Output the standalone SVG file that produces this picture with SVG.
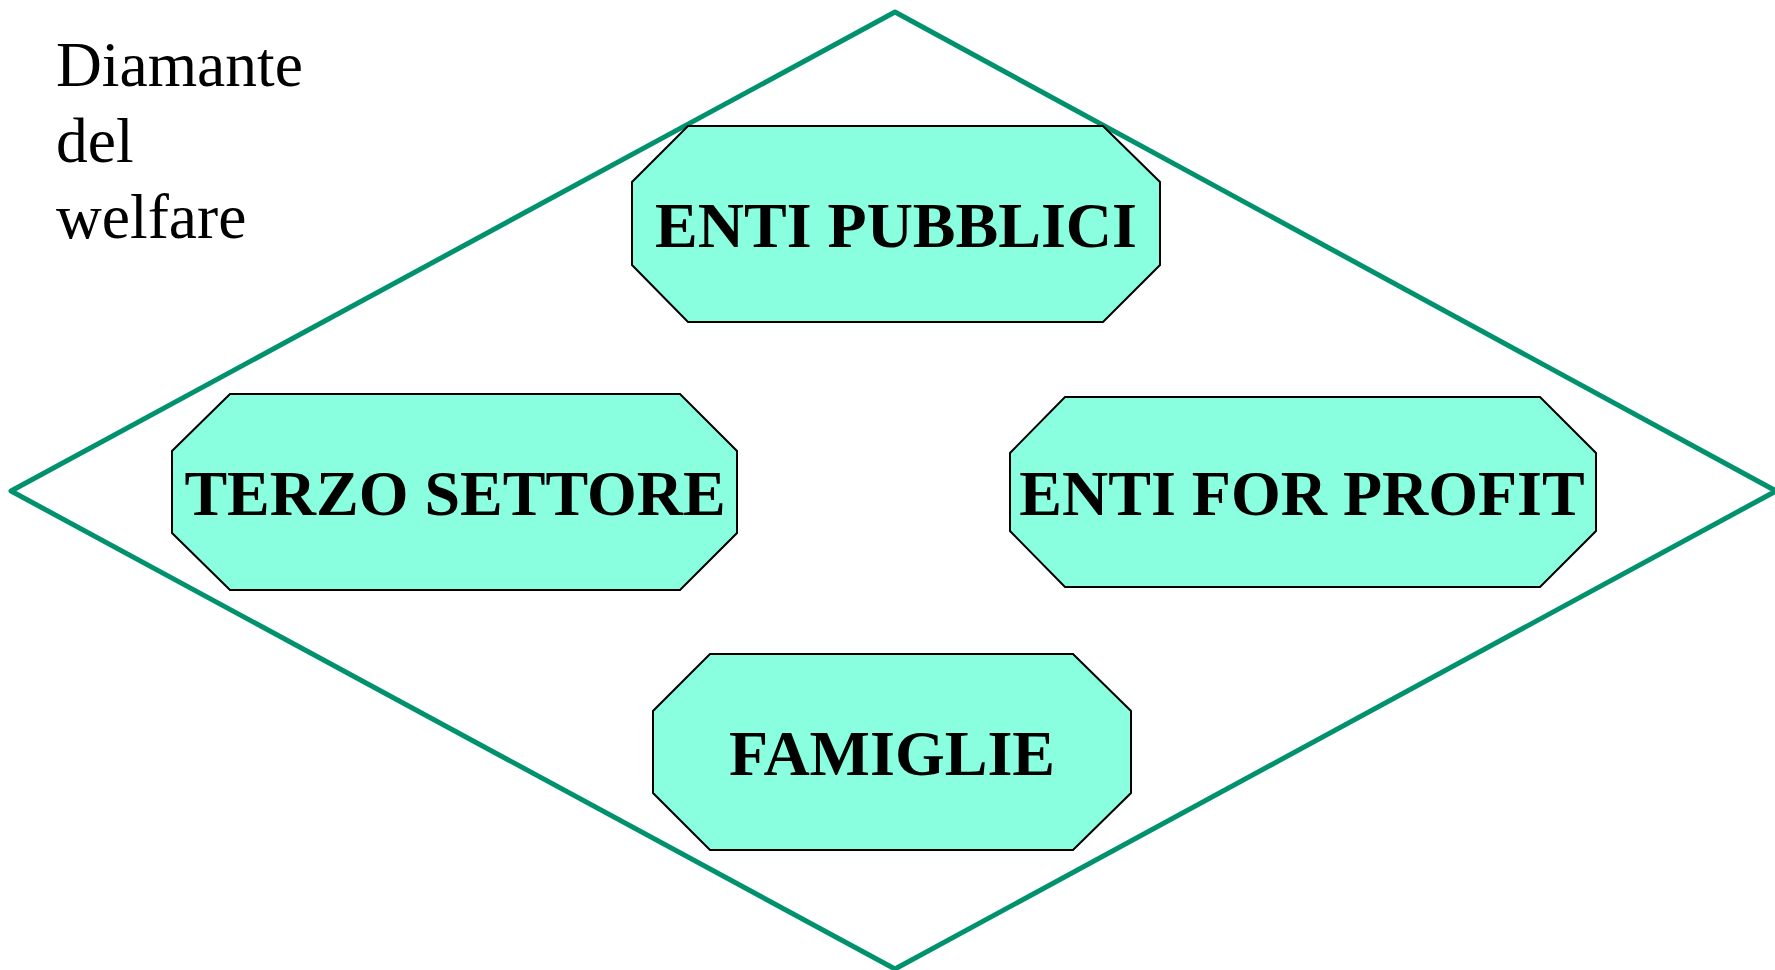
<svg xmlns="http://www.w3.org/2000/svg" width="1775" height="970" viewBox="0 0 1775 970">
  <style>
    .frame { fill: none; stroke: #00926E; stroke-width: 5; stroke-linejoin: round; }
    .oct { fill: #8AFFDF; stroke: #000; stroke-width: 2; }
    .label { font-family: "Liberation Serif", "Times New Roman", serif; font-weight: bold; font-size: 64px; fill: #000; text-anchor: middle; }
    .title { font-family: "Liberation Serif", "Times New Roman", serif; font-size: 63.5px; fill: #000; }
  </style>
  <rect width="1775" height="970" fill="#fff"/>

  <!-- diamond outline: top, left, bottom, right -->
  <g id="connectors">
    <polygon class="frame" points="895,12 11,491 895,969 1776,491"/>
  </g>

  <g id="title">
    <text class="title" x="56" y="86">Diamante</text>
    <text class="title" x="56" y="162">del</text>
    <text class="title" x="56" y="238">welfare</text>
  </g>

  <g id="enti-pubblici">
    <polygon class="oct" points="688,126 1103,126 1160,182 1160,265 1103,322 688,322 632,265 632,182"/>
    <text class="label" x="896" y="247">ENTI PUBBLICI</text>
  </g>

  <g id="terzo-settore">
    <polygon class="oct" points="230,394 680,394 737,451 737,533 680,590 230,590 172,533 172,451"/>
    <text class="label" x="455" y="515">TERZO SETTORE</text>
  </g>

  <g id="enti-for-profit">
    <polygon class="oct" points="1065,397 1540,397 1596,453 1596,531 1540,587 1065,587 1010,531 1010,453"/>
    <text class="label" x="1302" y="515">ENTI FOR PROFIT</text>
  </g>

  <g id="famiglie">
    <polygon class="oct" points="710,654 1073,654 1131,711 1131,793 1073,850 710,850 653,793 653,711"/>
    <text class="label" x="892" y="775">FAMIGLIE</text>
  </g>
</svg>
